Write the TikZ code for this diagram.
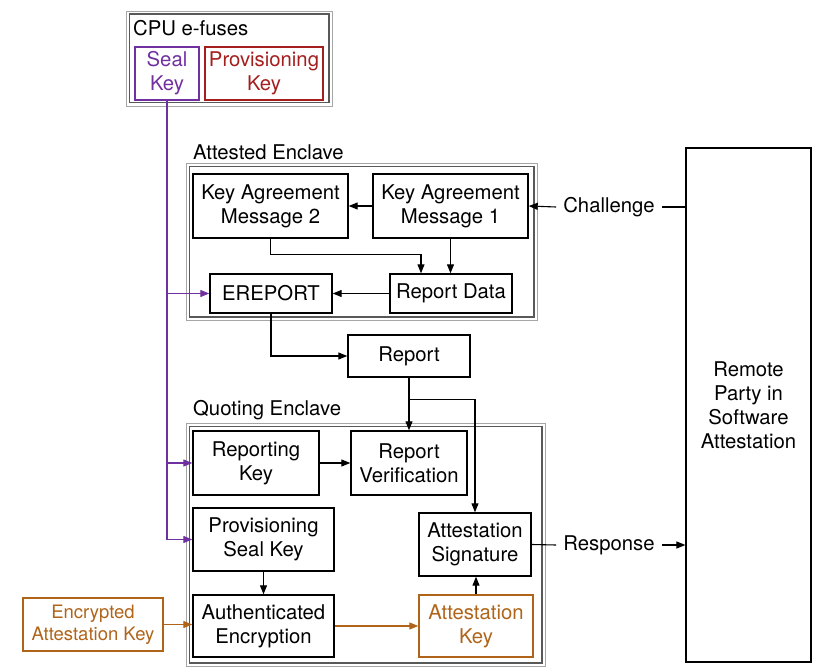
\documentclass[tikz,border=0pt]{standalone}
\usepackage{xcolor}
\usepackage{fontspec}
\setmainfont{TeX Gyre Heros}
\usepackage{tikz}
\usetikzlibrary{arrows.meta,positioning,calc}
\definecolor{sealpurple}{RGB}{112,48,160}
\definecolor{provred}{RGB}{165,30,30}
\definecolor{keybrown}{RGB}{175,100,25}

\begin{document}
\begin{tikzpicture}[x=1pt,y=-1pt,font=\fontsize{20.3}{24}\selectfont,
  blk/.style={draw,line width=1.4pt,align=center,inner sep=0pt},
  keyblk/.style={blk,draw=#1,text=#1,line width=1.3pt},
  encl/.style={draw=gray!70,line width=0.9pt,inner sep=0pt},
  enclin/.style={draw=black!65,line width=1.1pt},
  lbl/.style={anchor=west,inner sep=0pt},
  msg/.style={inner sep=7pt},
  arr/.style={-{Triangle[length=9pt,width=7pt]},line width=1.1pt},
  ln/.style={line width=1.1pt}]
  \useasboundingbox (0,0) rectangle (828,669);

  % enclosures
  \node[encl,minimum width=206pt,minimum height=95pt] (efuses) at (229,58.5) {};
  \node[encl,minimum width=351pt,minimum height=157pt] (attested) at (361.5,241.5) {};
  \node[encl,minimum width=359pt,minimum height=243pt] (quoting) at (365.5,544.5) {};
  \foreach \encname in {efuses,attested,quoting}
    \draw[enclin] ($(\encname.north west)+(3.5,3.5)$) rectangle ($(\encname.south east)+(-3.5,-3.5)$);
  \node[lbl] (efuseslbl) at (133,28) {CPU e-fuses};
  \node[lbl] (attestedlbl) at (193,152) {Attested Enclave};
  \node[lbl] (quotinglbl) at (193,410) {Quoting Enclave};

  % keys in the fuses
  \node[keyblk=sealpurple,minimum width=64pt,minimum height=53pt] (sealkey) at (167,73.5) {Seal\\Key};
  \node[keyblk=provred,minimum width=118pt,minimum height=53pt] (provkey) at (264,73.5) {Provisioning\\Key};

  % attested enclave
  \node[blk,minimum width=155pt,minimum height=64pt] (kam2) at (270.5,206) {Key Agreement\\Message 2};
  \node[blk,minimum width=155pt,minimum height=64pt] (kam1) at (450.5,206) {Key Agreement\\Message 1};
  \node[blk,minimum width=122pt,minimum height=39pt] (ereport) at (271,293.5) {EREPORT};
  \node[blk,minimum width=122pt,minimum height=39pt] (repdata) at (451,293.5) {Report Data};
  \node[blk,minimum width=122pt,minimum height=42pt] (report) at (409,356) {Report};

  % quoting enclave
  \node[blk,minimum width=126pt,minimum height=64pt] (repkey) at (256,463) {Reporting\\Key};
  \node[blk,minimum width=116pt,minimum height=64pt] (repver) at (409,463) {Report\\Verification};
  \node[blk,minimum width=141pt,minimum height=63pt] (provseal) at (263.5,539.5) {Provisioning\\Seal Key};
  \node[blk,minimum width=141pt,minimum height=62pt] (authenc) at (263.5,626) {Authenticated\\Encryption};
  \node[blk,minimum width=112pt,minimum height=63pt] (attsig) at (475,544.5) {Attestation\\Signature};
  \node[keyblk=keybrown,minimum width=114pt,minimum height=62pt] (attkey) at (476,626) {Attestation\\Key};
  \node[keyblk=keybrown,minimum width=140pt,minimum height=53pt,
        font=\fontsize{18.5}{22}\selectfont] (enckey) at (93,624.5) {Encrypted\\Attestation Key};

  % remote party
  \node[blk,line width=1.2pt,minimum width=125pt,minimum height=514pt] (remote) at (748.5,405)
        {Remote\\Party in\\Software\\Attestation};
  \node[msg] (challenge) at (609,207) {Challenge};
  \node[msg] (response) at (609,545) {Response};

  % seal key lines
  \draw[ln,sealpurple] (sealkey.south) -- (sealkey.south |- provseal.west);
  \draw[arr,sealpurple] (sealkey.south |- provseal.west) -- (provseal.west);
  \draw[arr,sealpurple] (sealkey.south |- ereport.west) -- (ereport.west);
  \draw[arr,sealpurple] (sealkey.south |- repkey.west) -- (repkey.west);

  % attested enclave flow
  \draw[ln] (remote.west |- challenge) -- (challenge.east);
  \draw[arr] (challenge.west) -- (kam1.east);
  \draw[arr] (kam1.west) -- (kam2.east);
  \draw[arr] (kam2.south) -- ++(0,16) -| ($(repdata.north)+(-30,0)$);
  \draw[arr] (kam1.south) -- (kam1.south |- repdata.north);
  \draw[arr] (repdata.west) -- (ereport.east);
  \draw[arr] (ereport.south) |- (report.west);

  % quoting enclave flow
  \draw[arr] (report.south) -- (repver.north);
  \draw[arr] ($(report.south)+(0,22)$) -| (attsig.north);
  \draw[arr] (repkey.east) -- (repver.west);
  \draw[arr] (provseal.south) -- (authenc.north);
  \draw[arr,keybrown] (enckey.east) -- (enckey.east -| authenc.west);
  \draw[arr,keybrown] (authenc.east) -- (authenc.east -| attkey.west);
  \draw[arr] (attkey.north) -- (attsig.south -| attkey.north);
  \draw[ln] (attsig.east) -- (response.west);
  \draw[arr] (response.east) -- (response.east -| remote.west);
\end{tikzpicture}
\end{document}
